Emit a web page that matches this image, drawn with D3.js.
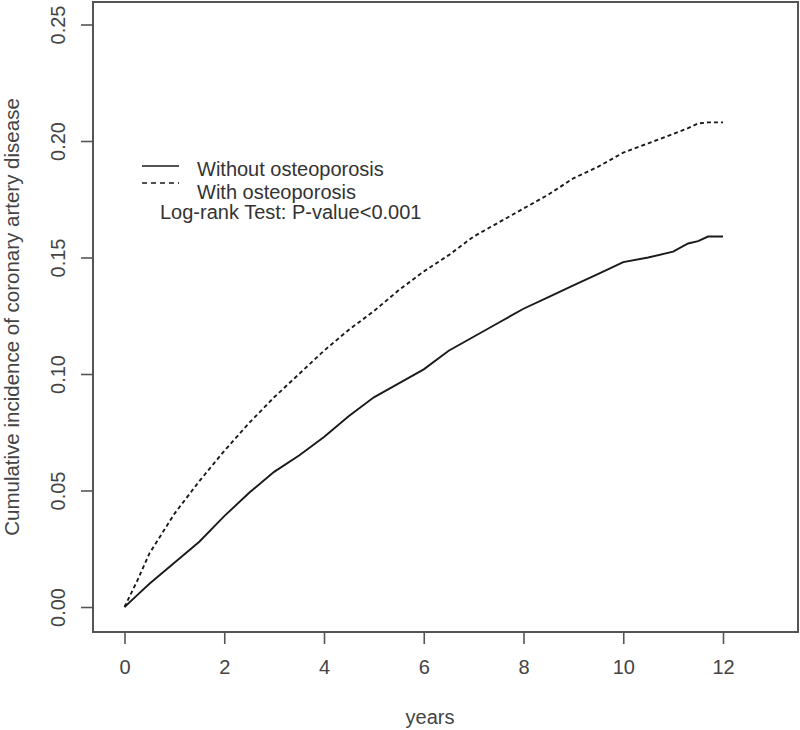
<!DOCTYPE html>
<html>
<head>
	<title></title>
	<style type="text/css">
*{
	margin: 0;
	padding: 0;
}
html,body{
	width: 100%;
	height: 100%;
	background: #fff;
}
svg{
	display: block;
}
text{
	font-family: "Liberation Sans", Arial, sans-serif;
}
	</style>
</head>
<body>
	<script src="https://cdn.jsdelivr.net/npm/d3@7"></script>
	<script>
		// 数据 years / cumulative incidence
		var years    = [0, 0.25, 0.5, 1, 1.5, 2, 2.5, 3, 3.5, 4, 4.5, 5, 5.5, 6, 6.5, 7, 7.5, 8, 8.5, 9, 9.5, 10, 10.5, 11, 11.3, 11.5, 11.7, 12];
		var without  = [0, 0.005, 0.010, 0.019, 0.028, 0.039, 0.049, 0.058, 0.065, 0.073, 0.082, 0.090, 0.096, 0.102, 0.110, 0.116, 0.122, 0.128, 0.133, 0.138, 0.143, 0.148, 0.150, 0.1525, 0.156, 0.157, 0.159, 0.159];
		var withOst  = [0, 0.011, 0.023, 0.040, 0.054, 0.067, 0.079, 0.090, 0.100, 0.110, 0.119, 0.127, 0.136, 0.144, 0.151, 0.159, 0.165, 0.171, 0.177, 0.184, 0.189, 0.195, 0.199, 0.203, 0.2055, 0.2075, 0.208, 0.208];
		var xTicks   = [0, 2, 4, 6, 8, 10, 12];
		var yTicks   = [0, 0.05, 0.10, 0.15, 0.20, 0.25];
		var legendLabels = ["Without osteoporosis", "With osteoporosis"];
		var testLabel = "Log-rank Test: P-value<0.001";

		var width = 800;
		var height = 730;
		var box = ({ left: 93, top: 2, right: 798, bottom: 632 });
		var ink = "#1a1a1a";
		var grey = "#444";

		const svg = d3.select("body").append("svg")
			.attr("width", width)
			.attr("height", height);

		var x = d3.scaleLinear()
				.domain([0, 12])
				.range([124.5, 723]);

		var y = d3.scaleLinear()
				.domain([0, 0.25])
				.range([607, 24.5]);

		var line = d3.line()
				.x(d => x(d[0]))
				.y(d => y(d[1]));

		// 曲线
		svg.append("path")
			.datum(years.map((t, i) => [t, without[i]]))
			.attr("fill", "none")
			.attr("stroke", ink)
			.attr("stroke-width", 1.9)
			.attr("d", line);

		svg.append("path")
			.datum(years.map((t, i) => [t, withOst[i]]))
			.attr("fill", "none")
			.attr("stroke", ink)
			.attr("stroke-width", 1.9)
			.attr("stroke-dasharray", "4,3")
			.attr("d", line);

		// 边框
		svg.append("rect")
			.attr("x", box.left)
			.attr("y", box.top)
			.attr("width", box.right - box.left)
			.attr("height", box.bottom - box.top)
			.attr("fill", "none")
			.attr("stroke", "#555")
			.attr("stroke-width", 2);

		// x轴
		var gx = svg.append("g")
			.attr("transform", `translate(0,${box.bottom})`)
			.call(d3.axisBottom(x).tickValues(xTicks).tickSize(12).tickPadding(16).tickFormat(d3.format("d")));
		gx.select(".domain").remove();
		gx.selectAll(".tick line").attr("stroke", "#555").attr("stroke-width", 1.6);
		gx.selectAll(".tick text").attr("fill", grey).attr("font-size", 20).attr("font-family", "Liberation Sans, Arial, sans-serif");

		// y轴
		var gy = svg.append("g")
			.attr("transform", `translate(${box.left},0)`)
			.call(d3.axisLeft(y).tickValues(yTicks).tickSize(12).tickFormat(d3.format(".2f")));
		gy.select(".domain").remove();
		gy.selectAll(".tick line").attr("stroke", "#555").attr("stroke-width", 1.6);
		gy.selectAll(".tick text")
			.attr("fill", grey)
			.attr("font-size", 20)
			.attr("font-family", "Liberation Sans, Arial, sans-serif")
			.attr("x", null)
			.attr("dy", null)
			.attr("text-anchor", "middle")
			.attr("transform", "translate(-35.5,0) rotate(-90)")
			.attr("dominant-baseline", "central");

		// 轴标题
		svg.append("text")
			.attr("x", 430)
			.attr("y", 724)
			.attr("text-anchor", "middle")
			.attr("font-size", 20)
			.attr("fill", grey)
			.text("years");

		svg.append("text")
			.attr("transform", "translate(19,317) rotate(-90)")
			.attr("text-anchor", "middle")
			.attr("font-size", 20.5)
			.attr("fill", grey)
			.text("Cumulative incidence of coronary artery disease");

		// 图例
		var legend = svg.append("g").attr("class", "legend");
		legendLabels.forEach(function (lab, i) {
			var ly = 166 + i * 17;
			legend.append("line")
				.attr("x1", 142).attr("x2", 179)
				.attr("y1", ly).attr("y2", ly)
				.attr("stroke", ink)
				.attr("stroke-width", 1.6)
				.attr("stroke-dasharray", i === 1 ? "5,4" : null);
			legend.append("text")
				.attr("x", 197)
				.attr("y", 176 + i * 23)
				.attr("font-size", 20)
				.attr("fill", "#333")
				.text(lab);
		});
		legend.append("text")
			.attr("x", 160)
			.attr("y", 219)
			.attr("font-size", 20)
			.attr("fill", "#333")
			.text(testLabel);
	</script>
</body>
</html>
